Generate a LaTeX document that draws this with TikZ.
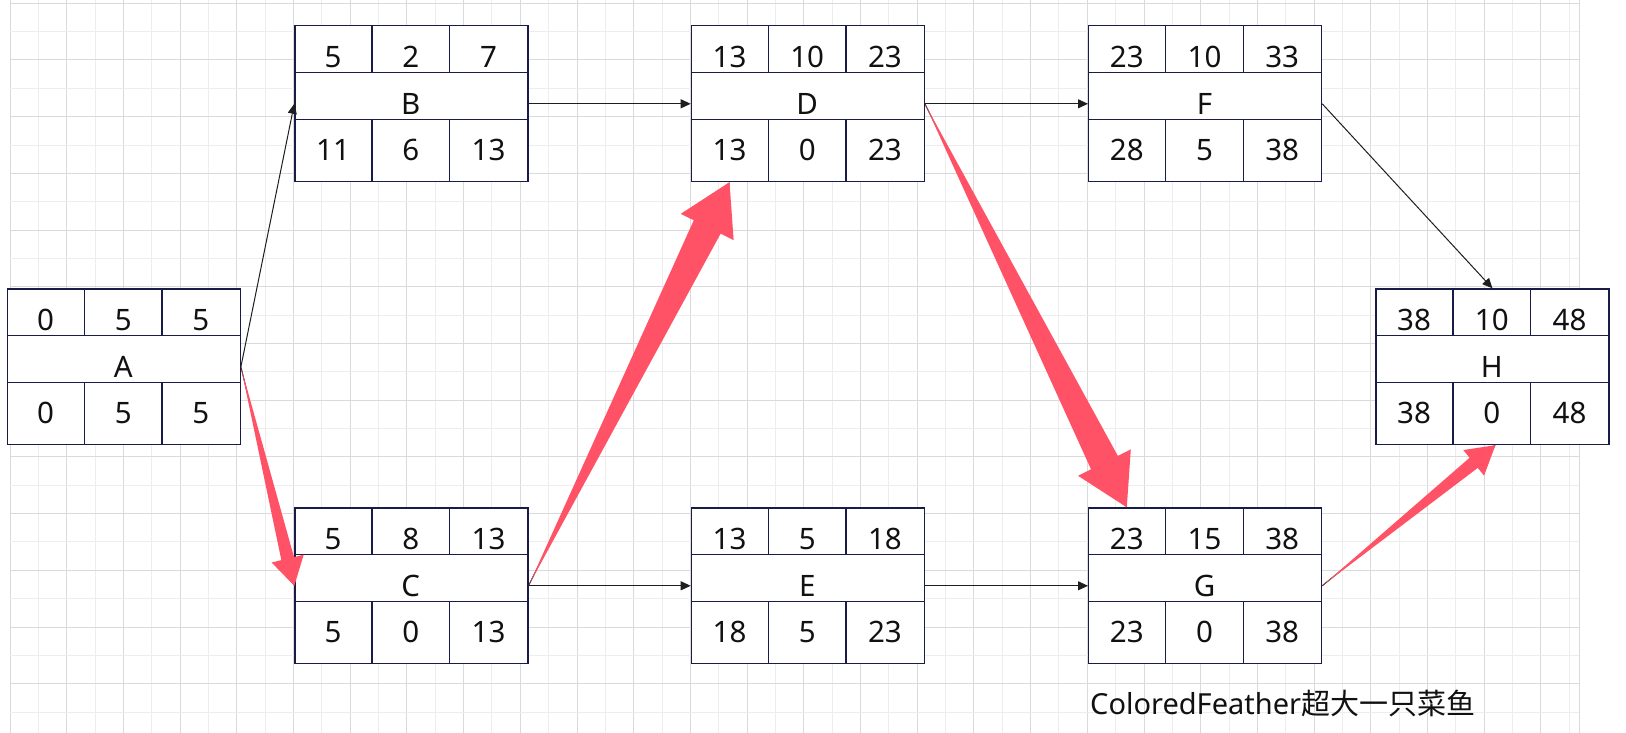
\documentclass[tikz,border=0pt]{standalone}
\usepackage{fontspec}
\setmainfont{Noto Sans}
\newfontfamily\cjk{Noto Sans CJK SC}
\usepackage{tikz}
\usetikzlibrary{arrows.meta,calc,positioning}
\usepackage{xcolor}
\definecolor{boxnavy}{RGB}{24,28,70}
\definecolor{critred}{RGB}{255,82,102}
\definecolor{linkblack}{RGB}{30,30,30}
\definecolor{inkblack}{RGB}{17,17,17}
\definecolor{gridmajor}{RGB}{218,218,218}
\definecolor{gridminor}{RGB}{237,237,237}
\tikzstyle{actframe} = [rectangle, draw=boxnavy, fill=white, line width=1.2pt, minimum width=233pt, minimum height=155.7pt, anchor=north west, inner sep=0pt]
\tikzstyle{cellline} = [draw=boxnavy, line width=1.2pt]
\tikzstyle{celltext} = [font=\fontsize{29.5}{34}\selectfont, text=inkblack, inner sep=0pt]
\tikzstyle{arrow} = [->, >={Triangle[length=10pt,width=9pt]}, line width=1pt, color=linkblack]
\tikzstyle{critical} = [fill=critred]
% activity box: name, position, ES, duration, EF, label, LS, float, LF
\newcommand{\actbox}[9]{%
  \node[actframe] (#1) at #2 {};
  \draw[cellline] ($(#1.north west)+(0,47)$) -- ($(#1.north east)+(0,47)$);
  \draw[cellline] ($(#1.north west)+(0,94)$) -- ($(#1.north east)+(0,94)$);
  \draw[cellline] ($(#1.north west)+(77.7,0)$) -- ++(0,47);
  \draw[cellline] ($(#1.north west)+(155.3,0)$) -- ++(0,47);
  \draw[cellline] ($(#1.north west)+(77.7,94)$) -- ($(#1.south west)+(77.7,0)$);
  \draw[cellline] ($(#1.north west)+(155.3,94)$) -- ($(#1.south west)+(155.3,0)$);
  \node[celltext] (#1-es) at ($(#1.north west)+(38.8,32)$) {#3};
  \node[celltext] (#1-d) at ($(#1.north west)+(116.5,32)$) {#4};
  \node[celltext] (#1-ef) at ($(#1.north west)+(194.2,32)$) {#5};
  \node[celltext] (#1-name) at ($(#1.north west)+(116.5,79)$) {#6};
  \node[celltext] (#1-ls) at ($(#1.north west)+(38.8,124.8)$) {#7};
  \node[celltext] (#1-tf) at ($(#1.north west)+(116.5,124.8)$) {#8};
  \node[celltext] (#1-lf) at ($(#1.north west)+(194.2,124.8)$) {#9};
  \coordinate (#1-in) at ($(#1.north west)+(0,78.5)$);
  \coordinate (#1-out) at ($(#1.north east)+(0,78.5)$);
  \coordinate (#1-top) at ($(#1.north west)+(38.8,0)$);
  \coordinate (#1-bot) at ($(#1.south west)+(38.8,0)$);
  \coordinate (#1-crown) at (#1.north);
  \coordinate (#1-foot) at ($(#1.south)+(3,0)$);
}
% critical path arrow: from, to, head length, half head width, half shaft width
\newcommand{\fatarrow}[5]{%
  \coordinate (#1-#2-base) at ($(#2)!#3!(#1)$);
  \fill[critical] (#1) -- ($(#1-#2-base)!#5!90:(#2)$) -- ($(#1-#2-base)!#4!90:(#2)$) -- (#2)
    -- ($(#1-#2-base)!#4!-90:(#2)$) -- ($(#1-#2-base)!#5!-90:(#2)$) -- cycle;
}
\begin{document}
\begin{tikzpicture}[x=1pt, y=-1pt]
    \useasboundingbox (0,0) rectangle (1626,733);
    \fill[white] (0,0) rectangle (1626,733);

    % Grid
    \begin{scope}
        \clip (10,0) rectangle (1580.3,733);
        \foreach \k in {0,...,27} {
            \draw[gridminor, line width=1pt] ({38.35+\k*56.7},0) -- ++(0,733);
            \draw[gridmajor, line width=1pt] ({10+\k*56.7},0) -- ++(0,733);
        }
        \foreach \k in {0,...,12} {
            \draw[gridminor, line width=1pt] (10,{31.65+\k*56.7}) -- (1580.3,{31.65+\k*56.7});
            \draw[gridmajor, line width=1pt] (10,{3.3+\k*56.7}) -- (1580.3,{3.3+\k*56.7});
        }
        \draw[gridmajor, line width=1pt] (1579.8,0) -- (1579.8,733);
    \end{scope}

    % Activities
    \actbox{A}{(6.7,288.3)}{0}{5}{5}{A}{0}{5}{5}
    \actbox{B}{(294.3,25.3)}{5}{2}{7}{B}{11}{6}{13}
    \actbox{C}{(294.3,507.3)}{5}{8}{13}{C}{5}{0}{13}
    \actbox{D}{(690.7,25.3)}{13}{10}{23}{D}{13}{0}{23}
    \actbox{E}{(690.7,507.3)}{13}{5}{18}{E}{18}{5}{23}
    \actbox{F}{(1088,25.3)}{23}{10}{33}{F}{28}{5}{38}
    \actbox{G}{(1088,507.3)}{23}{15}{38}{G}{23}{0}{38}
    \actbox{H}{(1375.3,288.3)}{38}{10}{48}{H}{38}{0}{48}

    % Connections
    \draw[arrow] (A-out) -- (B-in);
    \draw[arrow] (A-out) -- (C-in);
    \draw[arrow] (B-out) -- (D-in);
    \draw[arrow] (C-out) -- (D-bot);
    \draw[arrow] (C-out) -- (E-in);
    \draw[arrow] (D-out) -- (F-in);
    \draw[arrow] (D-out) -- (G-top);
    \draw[arrow] (E-out) -- (G-in);
    \draw[arrow] (F-out) -- (H-crown);
    \draw[arrow] (G-out) -- (H-foot);

    % Critical path
    \fatarrow{A-out}{C-in}{28pt}{16.5pt}{6.5pt}
    \fatarrow{C-out}{D-bot}{50pt}{29.5pt}{15pt}
    \fatarrow{D-out}{G-top}{50pt}{29.5pt}{15pt}
    \fatarrow{G-out}{H-foot}{28pt}{16.5pt}{6.5pt}

    \node[anchor=west, inner sep=0pt, font=\fontsize{29}{34}\selectfont, text=inkblack] (sign) at (1090,703) {ColoredFeather{\cjk 超大一只菜鱼}};
\end{tikzpicture}
\end{document}
